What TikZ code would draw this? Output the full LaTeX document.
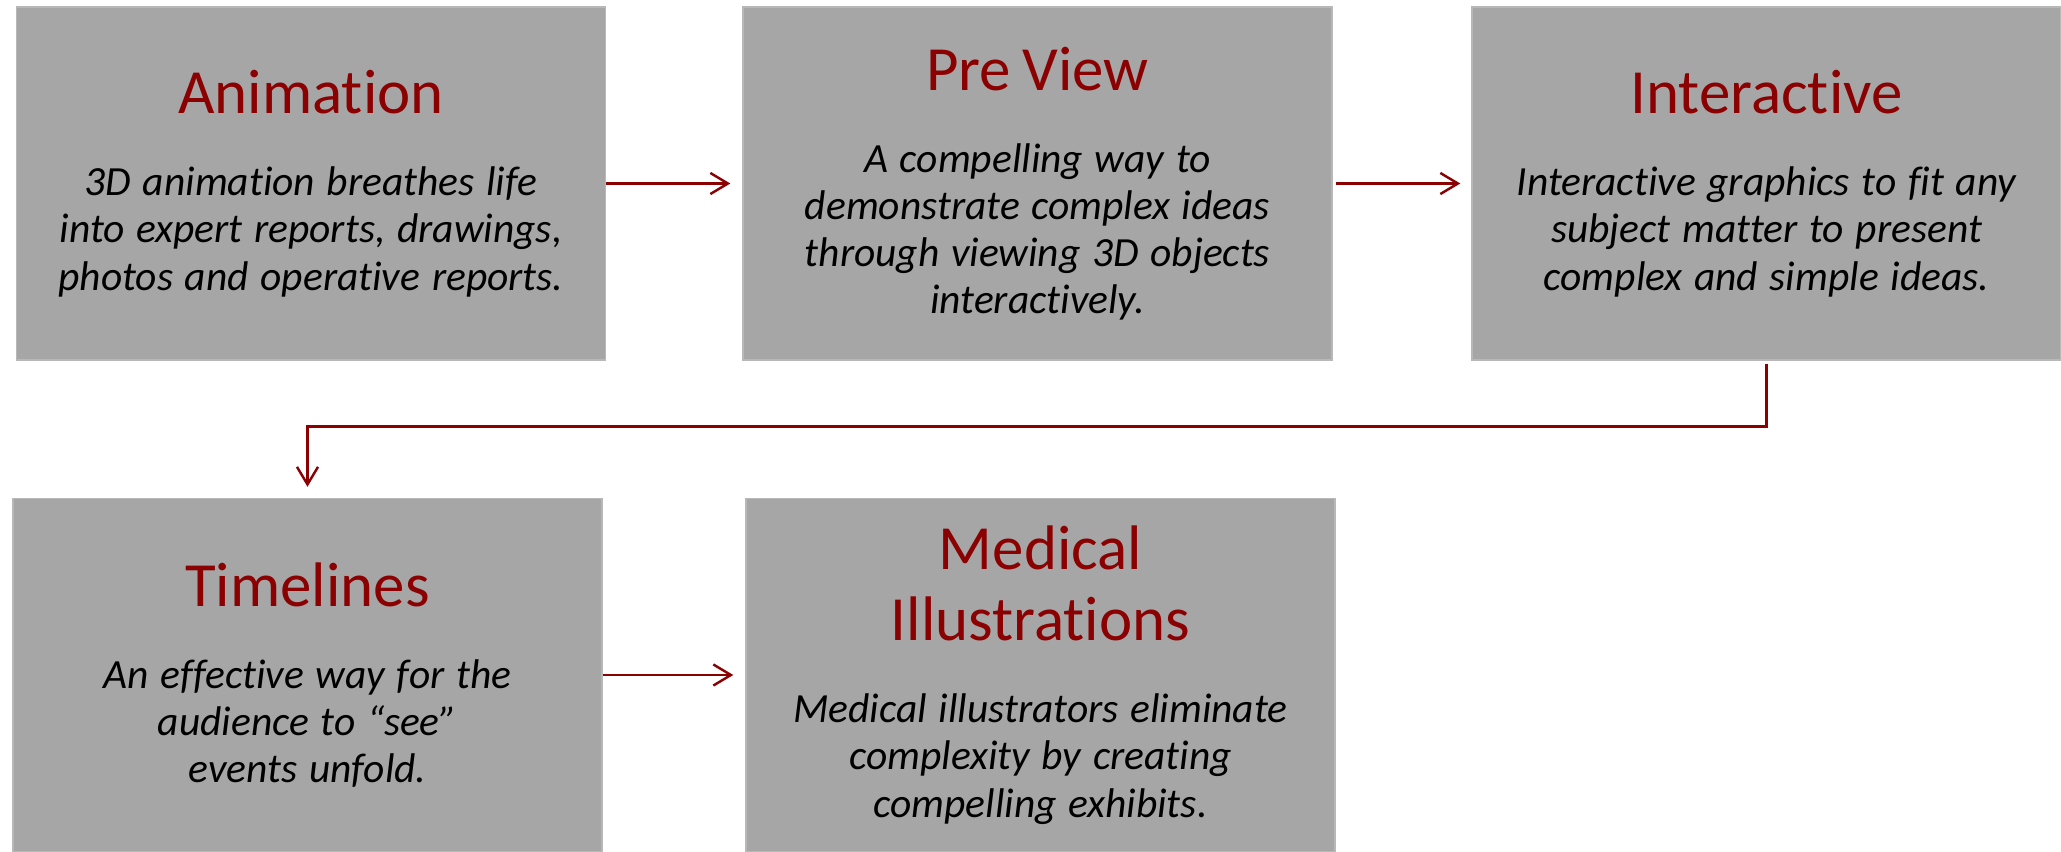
\documentclass[tikz,border=0pt]{standalone}
\usepackage{fontspec}
\setmainfont{Carlito}[Ligatures={TeX,NoCommon}]
\usetikzlibrary{arrows.meta}
\definecolor{titlered}{RGB}{139,0,0}
\definecolor{boxgray}{RGB}{166,166,166}
\tikzset{
  infobox/.style={fill=boxgray, draw=boxgray!80!white, line width=0.4pt, minimum width=5.89cm, minimum height=3.53cm, text width=5.8cm, align=center, inner sep=0pt},
  flow/.style={draw=titlered, line width=0.7pt, -{Straight Barb[length=5pt,width=6pt]}}
}
\newcommand{\boxhead}[1]{{\color{titlered}\fontsize{17.9}{20.2}\selectfont #1\par}\vspace{10pt}}
\newcommand{\boxbody}[1]{{\itshape\fontsize{11.8}{13.4}\selectfont #1\par}}
\begin{document}
\begin{tikzpicture}
\useasboundingbox (0, 0) rectangle (20.61, -8.52);
\node [infobox] (anim) at (3.11, -1.835) {\boxhead{Animation}\boxbody{3D animation breathes life\\ into expert reports, drawings,\\ photos and operative reports.}};
\node [infobox] (preview) at (10.375, -1.835) {\boxhead{Pre View}\boxbody{A compelling way to\\ demonstrate complex ideas\\ through viewing 3D objects\\ interactively.}};
\node [infobox] (inter) at (17.665, -1.835) {\boxhead{Interactive}\boxbody{Interactive graphics to fit any\\ subject matter to present\\ complex and simple ideas.}};
\node [infobox] (timeline) at (3.075, -6.75) {\boxhead{Timelines}\boxbody{An effective way for the\\ audience to “see”\\ events unfold.}};
\node [infobox] (medical) at (10.405, -6.75) {\boxhead{Medical\\ Illustrations}\boxbody{Medical illustrators eliminate\\ complexity by creating\\ compelling exhibits.}};
\draw [flow, shorten >=0.12cm] (anim.east) -- (preview.west);
\draw [flow, shorten <=0.03cm, shorten >=0.11cm] (preview.east) -- (inter.west);
\draw [flow, shorten <=0.03cm, shorten >=0.11cm] (inter.south) -- ++(0, -0.66) -| (timeline.north);
\draw [flow, shorten >=0.12cm] (timeline.east) -- (medical.west);
\end{tikzpicture}
\end{document}
